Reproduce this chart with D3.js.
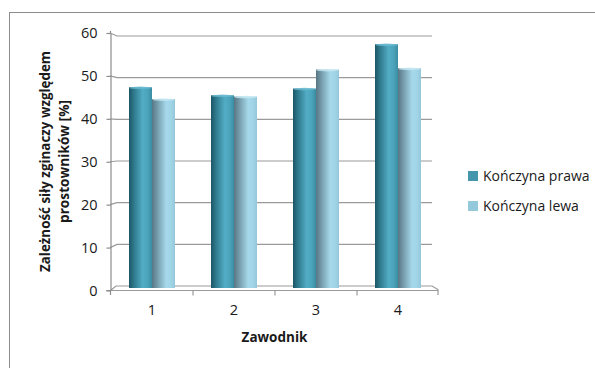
<!DOCTYPE html>
<html>
<head>
<meta charset="utf-8">
<script src="https://cdn.jsdelivr.net/npm/d3@7"></script>
<style>
  html, body { margin: 0; padding: 0; background: #fff; }
  svg { display: block; }
  text { font-family: "Open Sans", "Liberation Sans", sans-serif; fill: #1a1a1a; }
</style>
</head>
<body>
<svg id="chart" width="595" height="368"></svg>
<script>
// Data
const categories = ["1", "2", "3", "4"];
const seriesNames = ["Kończyna prawa", "Kończyna lewa"];
const prawa = [47.6, 45.7, 47.3, 57.8];
const lewa = [44.8, 45.4, 51.8, 52.1];
const yTicks = [0, 10, 20, 30, 40, 50, 60];
const yTitleLines = ["Zależność siły zginaczy  względem", "prostowników [%]"];
const xTitle = "Zawodnik";

const series = [prawa, lewa];
const svg = d3.select("#chart");

// Outer chart frame
svg.append("rect")
  .attr("x", 9.5).attr("y", 12.5)
  .attr("width", 640).attr("height", 400)
  .attr("fill", "none").attr("stroke", "#8c8c8c").attr("stroke-width", 1);

// Scales: front plane, back wall and bar plane of the 3D box
const yFront = d3.scaleLinear().domain([0, 60]).range([290.5, 33]);
const yBack = d3.scaleLinear().domain([0, 60]).range([286, 36]);
const yBar = d3.scaleLinear().domain([0, 60]).range([288, 35]);

const pIn = 36 / 82;
const x0 = d3.scaleBand().domain(categories).range([111, 439])
  .paddingInner(pIn).paddingOuter(pIn / 2);
const x1 = d3.scaleBand().domain(d3.range(series.length)).range([0, x0.bandwidth()]);

const wallL = 117, wallR = 432, depthX = 6;

// Gradients for the cylinder-like columns
const defs = svg.append("defs");
const grads = [
  [[0, "#1c5566"], [0.18, "#2c7487"], [0.6, "#52adc5"], [0.82, "#4aa3ba"], [1, "#3b8ca2"]],
  [[0, "#587684"], [0.22, "#7399a8"], [0.62, "#a6d9eb"], [0.85, "#a0d3e5"], [1, "#92c6d8"]]
];
grads.forEach((stops, i) => {
  const g = defs.append("linearGradient").attr("id", "bar" + i)
    .attr("x1", 0).attr("x2", 1).attr("y1", 0).attr("y2", 0);
  stops.forEach(s => g.append("stop").attr("offset", s[0]).attr("stop-color", s[1]));
});
const capColors = ["#67b9cf", "#c4e8f3"];
const legendColors = ["#4596ad", "#93c9db"];

// Back-wall gridlines
const grid = svg.append("g").attr("fill", "none").attr("stroke", "#9a9a9a").attr("stroke-width", 1.2);
yTicks.filter(v => v > 0).forEach(v => {
  grid.append("path")
    .attr("d", `M110,${yFront(v)} L${wallL},${yBack(v)} H${wallR}`);
});

// Floor slab
grid.append("path")
  .attr("d", `M110.5,${yFront(0)} L${wallL - 1},${yBack(0)} H${wallR} L${wallR + depthX},${yFront(0) - 1} V295`);
grid.append("path")
  .attr("d", `M106,${yFront(0)} H${wallR + depthX}`);

// Category boundary ticks
const bounds = categories.map(c => x0(c) - x0.step() * pIn / 2).concat([439]);
grid.selectAll("line.xt").data(bounds.slice(1, 4)).join("line")
  .attr("class", "xt")
  .attr("x1", d => d).attr("x2", d => d)
  .attr("y1", yFront(0)).attr("y2", 295.5);

// Y axis
const yAxis = svg.append("g").attr("transform", "translate(110.5,0)")
  .call(d3.axisLeft(yFront).tickValues(yTicks).tickSize(4).tickSizeOuter(0).tickPadding(9));
yAxis.select(".domain").attr("stroke", "#8c8c8c").attr("stroke-width", 1.2);
yAxis.selectAll(".tick line").attr("stroke", "#8c8c8c").attr("stroke-width", 1.2);
yAxis.selectAll(".tick text").style("font-size", "14.5px").attr("fill", "#1a1a1a")
  .style("font-family", "'Open Sans', sans-serif");
yAxis.append("line").attr("x1", 0).attr("x2", 0)
  .attr("y1", yFront(60)).attr("y2", yFront(60) - 2).attr("stroke", "#8c8c8c").attr("stroke-width", 1.2);
yAxis.append("line").attr("x1", 0).attr("x2", 0)
  .attr("y1", yFront(0)).attr("y2", 295).attr("stroke", "#8c8c8c").attr("stroke-width", 1.2);

// Columns
const groups = svg.append("g").selectAll("g").data(categories).join("g")
  .attr("transform", c => `translate(${x0(c)},0)`);
series.forEach((vals, si) => {
  groups.append("rect")
    .attr("x", x1(si)).attr("width", x1.bandwidth())
    .attr("y", (c, i) => yBar(vals[i]))
    .attr("height", (c, i) => yBar(0) - yBar(vals[i]))
    .attr("fill", `url(#bar${si})`);
  groups.append("ellipse")
    .attr("cx", x1(si) + x1.bandwidth() / 2)
    .attr("cy", (c, i) => yBar(vals[i]) + 0.6)
    .attr("rx", x1.bandwidth() / 2 - 0.5).attr("ry", 1.3)
    .attr("fill", capColors[si]).attr("opacity", 0.8);
});

// X axis labels
const xAxis = svg.append("g").attr("transform", "translate(0,298)")
  .call(d3.axisBottom(x0).tickSize(0).tickPadding(7));
xAxis.select(".domain").remove();
xAxis.selectAll(".tick text").style("font-size", "14.5px").attr("fill", "#1a1a1a")
  .style("font-family", "'Open Sans', sans-serif");

// Axis titles
svg.append("text")
  .attr("x", 274.5).attr("y", 342)
  .attr("text-anchor", "middle")
  .style("font-size", "13.5px").style("font-weight", "bold")
  .text(xTitle);

const yTitle = svg.append("g").attr("transform", "translate(0,161.5) rotate(-90)");
yTitle.selectAll("text").data(yTitleLines).join("text")
  .attr("x", 0).attr("y", (d, i) => [50, 69][i])
  .attr("text-anchor", "middle")
  .attr("textLength", (d, i) => [221, 123][i])
  .attr("lengthAdjust", "spacingAndGlyphs")
  .style("font-size", "14px").style("font-weight", "bold")
  .text(d => d);

// Legend
const legend = svg.append("g").selectAll("g").data(seriesNames).join("g")
  .attr("transform", (d, i) => `translate(468,${[181, 211][i]})`);
legend.append("rect")
  .attr("x", 0).attr("y", -10).attr("width", 10).attr("height", 10)
  .attr("fill", (d, i) => legendColors[i]);
legend.append("text")
  .attr("x", 15).attr("y", 0)
  .style("font-size", "14px")
  .text(d => d);
</script>
</body>
</html>
